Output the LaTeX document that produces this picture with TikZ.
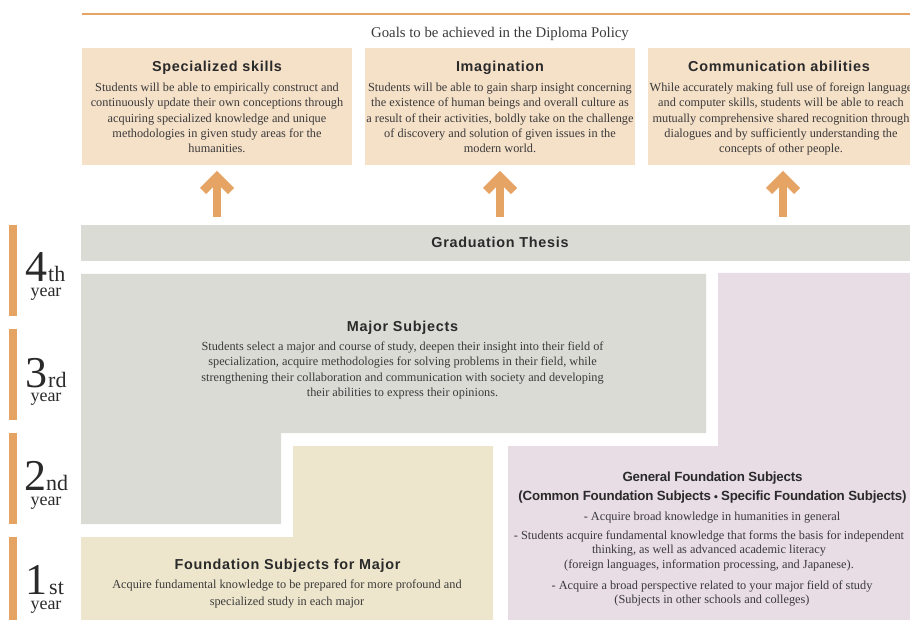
\documentclass[tikz,border=0pt]{standalone}
\usepackage{fontspec}
\setmainfont{Liberation Serif}
\newfontfamily\headfont[LetterSpace=5]{Liberation Sans}
\newfontfamily\genfont[LetterSpace=-1.5]{Liberation Sans}
\definecolor{orangeC}{HTML}{E5A464}
\definecolor{peachC}{HTML}{F5E0C8}
\definecolor{grayC}{HTML}{DBDBD6}
\definecolor{yellowC}{HTML}{EEE6CC}
\definecolor{purpleC}{HTML}{E8DCE5}
\definecolor{bodyC}{HTML}{3A3A3A}
\definecolor{headC}{HTML}{2A2A2A}
\begin{document}
\begin{tikzpicture}[x=1pt,y=-1pt,
  bodytext/.style={font=\fontsize{12.3}{15.2}\selectfont, text=bodyC, align=center, inner sep=0pt, anchor=base},
  headtext/.style={font=\headfont\bfseries\fontsize{14.4}{16}\selectfont, text=headC, inner sep=0pt, anchor=base},
  gentext/.style={font=\genfont\bfseries\fontsize{13.3}{19}\selectfont, text=headC, inner sep=0pt, anchor=base, align=center},
  goalbox/.style={fill=peachC, draw=none},
  yearbar/.style={fill=orangeC, draw=none},
  bignum/.style={font=\fontsize{44}{44}\selectfont, text=headC, inner sep=0pt, anchor=base west},
  suffix/.style={font=\fontsize{22}{22}\selectfont, text=headC, inner sep=0pt, anchor=base west},
  yearword/.style={font=\fontsize{18}{18}\selectfont, text=headC, inner sep=0pt, anchor=base},
  uparrow/.style={draw=orangeC, line width=8.5pt},
  ]
\useasboundingbox (0,0) rectangle (910,620);

% top line and caption
\draw[orangeC, line width=2pt] (82,14) -- (910,14);
\node[bodytext, font=\fontsize{14.8}{16}\selectfont] (goals) at (500,37.3) {Goals to be achieved in the Diploma Policy};

% goal boxes
\fill[goalbox] (82,48) rectangle (352,165);
\fill[goalbox] (365,48) rectangle (635,165);
\fill[goalbox] (648,48) rectangle (910,165);
\node[headtext] (t1) at (217,71.5) {Specialized skills};
\node[headtext] (t2) at (500,71.5) {Imagination};
\node[headtext] (t3) at (779,71.5) {Communication abilities};
\node[bodytext] (b1) at (217,152.5) {Students will be able to empirically construct and\\continuously update their own conceptions through\\acquiring specialized knowledge and unique\\methodologies in given study areas for the\\humanities.};
\node[bodytext] (b2) at (500,152.5) {Students will be able to gain sharp insight concerning\\the existence of human beings and overall culture as\\a result of their activities, boldly take on the challenge\\of discovery and solution of given issues in the\\modern world.};
\node[bodytext] (b3) at (781,152.5) {While accurately making full use of foreign language\\and computer skills, students will be able to reach\\mutually comprehensive shared recognition through\\dialogues and by sufficiently understanding the\\concepts of other people.};

% arrows
\foreach \xx in {217,500,783}{
  \draw[uparrow] (\xx,217) -- (\xx,178);
  \draw[uparrow, line join=miter, miter limit=4] (\xx-14,191) -- (\xx,177) -- (\xx+14,191);
}

% year bars
\fill[yearbar] (9,225) rectangle (17,316);
\fill[yearbar] (9,329) rectangle (17,420);
\fill[yearbar] (9,433) rectangle (17,524);
\fill[yearbar] (9,537) rectangle (17,620);

\node[bignum] (n4) at (25.5,282) {4};
\node[suffix] (s4) at (48,282) {th};
\node[yearword] (y4) at (46,297) {year};
\node[bignum] (n3) at (25.5,387) {3};
\node[suffix] (s3) at (48,387) {rd};
\node[yearword] (y3) at (46,401.5) {year};
\node[bignum] (n2) at (24.5,490) {2};
\node[suffix] (s2) at (46,490) {nd};
\node[yearword] (y2) at (46,505) {year};
\node[bignum] (n1) at (25.5,594) {1};
\node[suffix] (s1) at (49,594) {st};
\node[yearword] (y1) at (46,609) {year};

% graduation thesis
\fill[grayC] (81,225) rectangle (910,261);
\node[headtext] (grad) at (500,248) {Graduation Thesis};

% major subjects region
\fill[grayC] (81,274) -- (706,274) -- (706,433) -- (281,433) -- (281,524) -- (81,524) -- cycle;
\node[headtext] (major) at (402.5,331) {Major Subjects};
\node[bodytext] (majorb) at (402.5,396.3) {Students select a major and course of study, deepen their insight into their field of\\specialization, acquire methodologies for solving problems in their field, while\\strengthening their collaboration and communication with society and developing\\their abilities to express their opinions.};

% general foundation region
\fill[purpleC] (718,273) -- (910,273) -- (910,620) -- (508,620) -- (508,446) -- (718,446) -- cycle;
\node[gentext] (gen) at (712.5,500) {General Foundation Subjects\\(Common Foundation Subjects\,{\fontspec{DejaVu Sans}\fontsize{9}{9}\selectfont •}\,Specific Foundation Subjects)};
\node[bodytext] (genb1) at (712,520) {- Acquire broad knowledge in humanities in general};
\node[bodytext, font=\fontsize{12.3}{14.6}\selectfont] (genb2) at (709,568.2) {- Students acquire fundamental knowledge that forms the basis for independent\\thinking, as well as advanced academic literacy\\(foreign languages, information processing, and Japanese).};
\node[bodytext, font=\fontsize{12.3}{14.6}\selectfont] (genb3) at (712,603.9) {- Acquire a broad perspective related to your major field of study\\(Subjects in other schools and colleges)};

% foundation subjects for major region
\fill[yellowC] (293,446) -- (493,446) -- (493,620) -- (81,620) -- (81,537) -- (293,537) -- cycle;
\node[headtext] (found) at (287.5,569.3) {Foundation Subjects for Major};
\node[bodytext, font=\fontsize{12.3}{16.7}\selectfont] (foundb) at (287,605) {Acquire fundamental knowledge to be prepared for more profound and\\specialized study in each major};
\end{tikzpicture}
\end{document}
